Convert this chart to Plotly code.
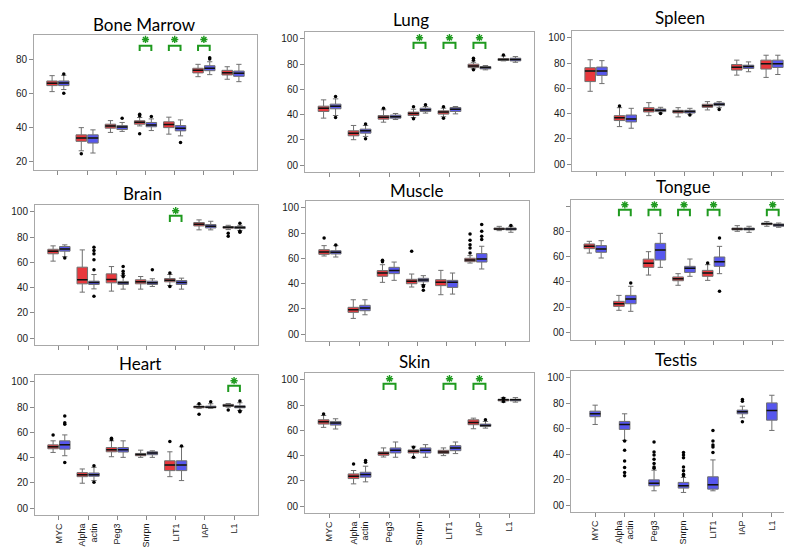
import plotly.graph_objects as go
from plotly.subplots import make_subplots

# ---------------- data ----------------
CATEGORIES = ["MYC", "Alpha actin", "Peg3", "Snrpn", "LIT1", "IAP", "L1"]
TICK_TEXT = ["MYC", "Alpha<br>actin", "Peg3", "Snrpn", "LIT1", "IAP", "L1"]
PANELS = ["Bone Marrow", "Lung", "Spleen", "Brain", "Muscle", "Tongue", "Heart", "Skin", "Testis"]

# each box: (lower whisker, q1, median, q3, upper whisker)
BONE_MARROW_RED = [(61.0, 64.5, 65.9, 67.2, 70.3), (26.5, 32.0, 33.9, 35.8, 40.0), (37.2, 39.7, 40.9, 42.0, 44.1),
                   (41.0, 42.0, 43.2, 44.0, 45.9), (36.2, 40.0, 41.8, 43.4, 46.1), (69.7, 71.9, 73.4, 74.6, 76.9),
                   (68.2, 70.7, 72.0, 73.4, 75.5)]
BONE_MARROW_BLUE = [(62.2, 64.5, 66.0, 67.2, 70.5), (25.2, 31.0, 33.9, 35.8, 38.7), (37.8, 38.9, 40.3, 41.2, 43.0),
                    (38.3, 40.5, 41.6, 43.0, 45.1), (35.2, 38.1, 39.7, 41.2, 44.5), (70.9, 73.2, 74.6, 76.1, 78.4),
                    (66.8, 69.9, 71.7, 73.0, 76.9)]
BONE_MARROW_RED_OUT = [[], [24.8], [], [47.8, 46.9, 36.4], [], [], []]
BONE_MARROW_BLUE_OUT = [[60.0, 71.3], [], [45.5], [46.5], [31.4], [80.8, 80.0], []]
BONE_MARROW_SIG = ["Snrpn", "LIT1", "IAP"]

LUNG_RED = [(37.2, 42.5, 45.1, 46.7, 51.7), (20.1, 23.2, 25.3, 27.2, 31.4), (34.0, 36.4, 38.0, 39.3, 43.8),
            (37.7, 39.3, 40.9, 42.0, 44.3), (38.3, 40.4, 42.0, 43.0, 45.1), (76.3, 77.3, 78.6, 80.0, 81.5),
            (82.6, 82.9, 83.6, 84.4, 86.5)]
LUNG_BLUE = [(39.3, 44.6, 46.7, 48.3, 52.5), (22.7, 25.3, 27.2, 28.5, 31.4), (36.1, 37.2, 38.3, 39.6, 40.9),
             (41.2, 42.5, 43.8, 45.1, 46.4), (40.6, 42.5, 44.3, 45.6, 46.4), (75.5, 76.3, 77.3, 78.1, 78.9),
             (81.5, 82.6, 83.6, 84.7, 86.0)]
LUNG_RED_OUT = [[], [], [45.1], [46.2, 36.7], [46.2, 37.2], [84.7, 83.1, 75.5], [87.3]]
LUNG_BLUE_OUT = [[54.4, 37.7], [32.5, 20.8], [], [47.8], [], [], []]
LUNG_SIG = ["Snrpn", "LIT1", "IAP"]

SPLEEN_RED = [(57.7, 65.4, 73.8, 76.4, 82.7), (29.7, 34.5, 36.8, 38.4, 44.7), (38.4, 41.3, 42.9, 44.7, 48.7),
              (37.4, 40.5, 41.6, 42.6, 44.7), (42.9, 45.0, 46.3, 47.4, 49.5), (70.5, 74.5, 76.8, 78.9, 82.4),
              (68.7, 75.3, 79.5, 82.4, 86.3)]
SPLEEN_BLUE = [(63.8, 70.3, 73.8, 76.9, 82.0), (28.4, 33.4, 35.8, 38.9, 44.2), (40.5, 41.6, 42.6, 43.7, 45.0),
               (39.5, 40.5, 41.6, 42.6, 44.2), (44.7, 46.3, 47.4, 48.4, 49.5), (73.2, 75.8, 77.4, 78.4, 81.0),
               (71.0, 76.6, 79.5, 82.4, 86.3)]
SPLEEN_RED_OUT = [[], [46.0], [], [], [], [], []]
SPLEEN_BLUE_OUT = [[], [], [40.0], [38.9], [43.2], [], []]
SPLEEN_SIG = []

BRAIN_RED = [(61.0, 66.8, 68.9, 70.4, 73.1), (36.4, 43.0, 46.2, 56.2, 69.9), (37.2, 43.8, 46.4, 50.9, 56.7),
             (38.8, 43.0, 44.6, 46.2, 48.8), (41.7, 44.6, 45.9, 47.2, 50.4), (85.8, 88.9, 90.2, 91.6, 93.7),
             (86.0, 87.1, 87.9, 88.4, 89.4)]
BRAIN_BLUE = [(64.5, 68.9, 70.7, 72.6, 73.9), (39.0, 42.5, 44.1, 45.1, 50.4), (38.8, 42.5, 43.8, 44.9, 49.6),
              (40.9, 42.5, 43.8, 45.1, 47.0), (38.8, 42.5, 44.1, 45.6, 47.5), (85.8, 87.3, 88.7, 90.0, 92.6),
              (85.2, 86.8, 87.6, 88.4, 89.4)]
BRAIN_RED_OUT = [[], [], [], [], [51.5, 40.9], [], [83.1, 80.7]]
BRAIN_BLUE_OUT = [[63.4], [72.0, 69.4, 66.8, 62.0, 54.1, 33.2], [56.7, 53.0, 50.9, 48.8], [54.1], [], [],
                  [91.0, 84.7, 83.9]]
BRAIN_SIG = ["LIT1"]

MUSCLE_RED = [(61.9, 63.2, 65.1, 66.9, 70.1), (12.4, 17.2, 19.3, 21.2, 27.2), (41.0, 45.8, 48.4, 50.3, 55.0),
              (37.3, 39.9, 41.8, 43.4, 47.6), (31.2, 38.4, 41.0, 43.1, 50.5), (56.3, 57.4, 58.7, 60.1, 62.2),
              (82.0, 82.8, 83.3, 84.1, 85.4)]
MUSCLE_BLUE = [(61.1, 63.5, 64.8, 66.1, 70.1), (15.3, 18.5, 20.6, 22.8, 27.2), (42.6, 47.9, 50.3, 52.9, 57.1),
               (39.2, 41.5, 42.9, 44.2, 46.3), (31.7, 37.0, 41.0, 42.6, 48.4), (51.6, 57.1, 59.5, 63.8, 69.6),
               (80.7, 82.5, 83.3, 84.1, 85.4)]
MUSCLE_RED_OUT = [[76.2], [], [58.5, 57.4], [65.6], [], [79.4, 74.3, 70.9, 68.3, 64.3], []]
MUSCLE_BLUE_OUT = [[70.6], [], [], [37.8, 34.7, 38.6], [], [86.8, 81.5, 77.5, 74.9], [86.0]]
MUSCLE_SIG = []

TONGUE_RED = [(62.8, 66.3, 68.1, 70.0, 72.1), (17.5, 20.6, 22.7, 24.6, 29.3), (45.4, 51.5, 54.7, 58.0, 63.9),
              (37.3, 40.9, 42.5, 43.9, 46.5), (41.2, 44.4, 47.0, 49.1, 53.6), (80.0, 81.1, 81.8, 82.6, 84.5),
              (84.0, 85.3, 86.1, 86.6, 87.7)]
TONGUE_BLUE = [(58.9, 63.4, 66.0, 68.7, 72.6), (16.7, 22.7, 26.4, 29.3, 36.5), (51.5, 57.3, 65.2, 70.5, 78.4),
               (44.4, 47.5, 50.7, 52.3, 58.1), (46.5, 52.3, 56.0, 59.7, 68.1), (79.2, 81.1, 81.8, 82.6, 84.0),
               (83.2, 84.0, 85.0, 85.8, 86.6)]
TONGUE_RED_OUT = [[], [], [], [], [54.9], [], []]
TONGUE_BLUE_OUT = [[], [39.1], [], [], [74.7, 32.5], [], []]
TONGUE_SIG = ["Alpha actin", "Peg3", "Snrpn", "LIT1", "L1"]

HEART_RED = [(44.1, 47.0, 48.6, 50.1, 53.3), (19.7, 24.9, 26.5, 28.1, 31.0), (40.7, 44.6, 46.2, 48.0, 53.3),
             (40.2, 41.5, 42.5, 43.3, 45.9), (24.9, 29.7, 34.1, 37.5, 44.6), (79.0, 79.5, 80.3, 80.8, 82.2),
             (80.0, 80.6, 81.4, 82.2, 82.9)]
HEART_BLUE = [(41.5, 46.7, 50.1, 53.3, 58.0), (21.8, 25.2, 26.5, 27.8, 32.3), (40.2, 44.4, 46.2, 48.0, 53.3),
              (40.2, 42.3, 43.6, 44.6, 45.4), (21.8, 29.7, 34.1, 37.5, 48.6), (79.0, 79.5, 80.0, 80.8, 82.7),
              (77.4, 79.5, 80.3, 81.1, 83.5)]
HEART_RED_OUT = [[58.0], [], [55.4, 54.3], [], [52.8], [82.7, 74.3], [77.7]]
HEART_BLUE_OUT = [[73.0, 67.7, 66.4, 36.2], [33.6, 20.5], [], [], [49.3], [84.3], [84.8, 76.9, 76.4]]
HEART_SIG = ["L1"]

SKIN_RED = [(62.4, 65.0, 66.8, 68.4, 71.8), (17.6, 21.8, 23.7, 25.5, 28.2), (38.9, 40.3, 41.8, 42.9, 46.1),
            (38.2, 42.1, 43.4, 44.5, 47.4), (40.0, 41.6, 42.9, 44.2, 46.1), (61.3, 64.5, 66.3, 68.4, 69.7),
            (82.4, 83.4, 84.2, 84.7, 86.0)]
SKIN_BLUE = [(61.1, 64.2, 65.8, 67.1, 69.2), (19.2, 22.9, 25.0, 26.8, 31.6), (38.7, 42.1, 44.2, 46.1, 50.8),
             (38.7, 42.1, 44.2, 46.1, 48.7), (41.6, 43.9, 46.1, 47.9, 50.8), (61.8, 63.2, 63.9, 65.0, 67.1),
             (82.4, 83.4, 84.2, 84.7, 86.0)]
SKIN_RED_OUT = [[72.9], [33.4], [], [46.6, 38.7], [], [], [85.5, 82.9]]
SKIN_BLUE_OUT = [[], [36.1, 34.7], [], [], [], [68.4], []]
SKIN_SIG = ["Peg3", "LIT1", "IAP"]

TESTIS_BLUE = [(63.4, 69.5, 71.8, 73.9, 78.6), (50.9, 59.5, 63.4, 65.8, 71.8), (11.2, 15.1, 17.2, 19.8, 27.4),
               (9.9, 13.3, 15.1, 17.8, 21.7), (11.2, 12.5, 15.9, 22.2, 35.5), (68.7, 71.8, 73.4, 74.7, 77.8),
               (58.7, 66.8, 74.4, 80.4, 86.4)]
TESTIS_BLUE_OUT = [[], [50.4, 43.1, 34.7, 29.5, 25.6, 23.0], [49.6, 41.8, 39.4, 36.0, 32.6, 30.0, 29.0],
                   [41.3, 39.4, 37.3, 30.0, 26.9, 24.3, 23.0], [58.7, 50.4, 47.3, 45.7, 41.3], [83.0, 81.7, 65.5], []]
TESTIS_SIG = []

PANEL_DATA = {
    "Bone Marrow": (BONE_MARROW_RED, BONE_MARROW_BLUE, BONE_MARROW_RED_OUT, BONE_MARROW_BLUE_OUT, BONE_MARROW_SIG),
    "Lung": (LUNG_RED, LUNG_BLUE, LUNG_RED_OUT, LUNG_BLUE_OUT, LUNG_SIG),
    "Spleen": (SPLEEN_RED, SPLEEN_BLUE, SPLEEN_RED_OUT, SPLEEN_BLUE_OUT, SPLEEN_SIG),
    "Brain": (BRAIN_RED, BRAIN_BLUE, BRAIN_RED_OUT, BRAIN_BLUE_OUT, BRAIN_SIG),
    "Muscle": (MUSCLE_RED, MUSCLE_BLUE, MUSCLE_RED_OUT, MUSCLE_BLUE_OUT, MUSCLE_SIG),
    "Tongue": (TONGUE_RED, TONGUE_BLUE, TONGUE_RED_OUT, TONGUE_BLUE_OUT, TONGUE_SIG),
    "Heart": (HEART_RED, HEART_BLUE, HEART_RED_OUT, HEART_BLUE_OUT, HEART_SIG),
    "Skin": (SKIN_RED, SKIN_BLUE, SKIN_RED_OUT, SKIN_BLUE_OUT, SKIN_SIG),
    "Testis": (None, TESTIS_BLUE, None, TESTIS_BLUE_OUT, TESTIS_SIG),
}

# ---------------- layout / style ----------------
W, H = 792, 547
# panel frames in pixels: (left, right, top, bottom)
FRAMES = {
    "Bone Marrow": (26, 249, 27, 162), "Lung": (297, 526, 24, 164), "Spleen": (564, 788, 23, 163),
    "Brain": (27, 250, 197, 337), "Muscle": (298, 521, 193, 333), "Tongue": (563, 789, 192, 332),
    "Heart": (27, 250, 367, 507), "Skin": (297, 526, 365, 505), "Testis": (563, 788, 363, 504),
}
TITLE_POS = {
    "Bone Marrow": (136, 16), "Lung": (403, 12), "Spleen": (672, 10),
    "Brain": (134, 185), "Muscle": (409, 182), "Tongue": (675, 179),
    "Heart": (132, 355), "Skin": (407, 353), "Testis": (668, 351),
}
FULL_TICKS = [0, 20, 40, 60, 80, 100]
FULL_TEXT = ["00", "20", "40", "60", "80", "100"]

RED_FILL = "#e8383d"
BLUE_FILL = "#5757ee"
LINE_COL = "#707070"
MEDIAN_COL = "#111111"
GREEN = "#1f9a1f"
OFFSET = 0.2
BOX_W = 0.36

fig = make_subplots(rows=3, cols=3)

for k, name in enumerate(PANELS):
    row, col = k // 3 + 1, k % 3 + 1
    red, blue, red_out, blue_out, sig = PANEL_DATA[name]
    idx = list(range(len(CATEGORIES)))
    groups = []
    if red is not None:
        groups.append((red, red_out, RED_FILL, -OFFSET))
        groups.append((blue, blue_out, BLUE_FILL, OFFSET))
    else:
        groups.append((blue, blue_out, BLUE_FILL, 0.0))
    for stats, outs, fill, off in groups:
        xs = [i + off for i in idx]
        fig.add_trace(go.Box(
            x=xs,
            lowerfence=[s[0] for s in stats], q1=[s[1] for s in stats], median=[s[2] for s in stats],
            q3=[s[3] for s in stats], upperfence=[s[4] for s in stats],
            width=BOX_W, fillcolor=fill, line=dict(color=LINE_COL, width=1),
            whiskerwidth=0.5, boxpoints=False, showlegend=False, hoverinfo="skip",
        ), row=row, col=col)
        # dark median lines drawn on top
        meds = [s[2] for s in stats]
        fig.add_trace(go.Box(
            x=xs, lowerfence=meds, q1=meds, median=meds, q3=meds, upperfence=meds,
            width=BOX_W, fillcolor="rgba(0,0,0,0)", line=dict(color=MEDIAN_COL, width=1.5),
            whiskerwidth=1, boxpoints=False, showlegend=False, hoverinfo="skip",
        ), row=row, col=col)
        ox, oy = [], []
        for i, vals in zip(idx, outs):
            for v in vals:
                ox.append(i + off)
                oy.append(v)
        if ox:
            fig.add_trace(go.Scatter(x=ox, y=oy, mode="markers",
                                     marker=dict(color="black", size=3.5),
                                     showlegend=False, hoverinfo="skip"), row=row, col=col)
    # significance brackets
    if name == "Bone Marrow":
        b_lo, b_hi, star_y = 84.6, 87.8, 91.4
    else:
        b_lo, b_hi, star_y = 92.0, 97.0, 101.0
    sx, sy = [], []
    for cat in sig:
        i = CATEGORIES.index(cat)
        fig.add_trace(go.Scatter(x=[i - OFFSET, i - OFFSET, i + OFFSET, i + OFFSET],
                                 y=[b_lo, b_hi, b_hi, b_lo], mode="lines",
                                 line=dict(color=GREEN, width=2),
                                 showlegend=False, hoverinfo="skip"), row=row, col=col)
        sx.append(i)
        sy.append(star_y)
    if sx:
        fig.add_trace(go.Scatter(x=sx, y=sy, mode="markers",
                                 marker=dict(symbol="asterisk-open", size=6, color=GREEN,
                                             line=dict(color=GREEN, width=1.4)),
                                 showlegend=False, hoverinfo="skip"), row=row, col=col)

    # axes
    l, r, t, b = FRAMES[name]
    suffix = "" if k == 0 else str(k + 1)
    xdom = [l / W, r / W]
    ydom = [1 - b / H, 1 - t / H]
    if name == "Bone Marrow":
        yrange, tv, tt = [15.3, 94.0], [20, 40, 60, 80], ["20", "40", "60", "80"]
    elif name == "Tongue":
        yrange, tv, tt = [-6.0, 104.8], FULL_TICKS, ["00", "20", "40", "60", "80", ""]
    else:
        yrange, tv, tt = [-5.5, 105.5], FULL_TICKS, FULL_TEXT
    bottom_row = row == 3
    fig.layout["xaxis" + suffix].update(
        domain=xdom, range=[-0.82, 6.82], tickmode="array", tickvals=idx,
        ticktext=TICK_TEXT if bottom_row else [""] * 7, showticklabels=bottom_row,
        tickangle=-90, ticks="outside", ticklen=4, tickcolor="#8a8a8a",
        showline=True, linecolor="#a8a8a8", linewidth=1, mirror=True,
        showgrid=False, zeroline=False,
        tickfont=dict(family="Liberation Sans", size=9, color="#1a1a1a"),
    )
    fig.layout["yaxis" + suffix].update(
        domain=ydom, range=yrange, tickmode="array", tickvals=tv, ticktext=tt,
        ticks="outside", ticklen=4, tickcolor="#8a8a8a",
        showline=True, linecolor="#a8a8a8", linewidth=1, mirror=True,
        showgrid=False, zeroline=False,
        tickfont=dict(family="Liberation Sans", size=10, color="#1a1a1a"),
    )
    tx, ty = TITLE_POS[name]
    fig.add_annotation(text=name, x=tx / W, y=1 - ty / H, xref="paper", yref="paper",
                       xanchor="center", yanchor="middle", showarrow=False,
                       font=dict(family="Lato", size=17, color="black"))

fig.update_layout(width=W, height=H, autosize=False,
                  margin=dict(l=0, r=0, t=0, b=0),
                  paper_bgcolor="white", plot_bgcolor="white")

fig.write_html("out.html")
